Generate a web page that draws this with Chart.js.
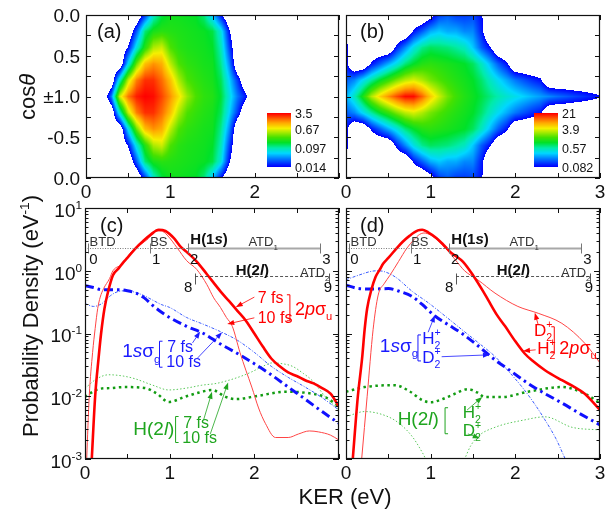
<!DOCTYPE html>
<html lang="en">
<head>
<meta charset="UTF-8" />
<title>KER and angular distributions</title>
<style>
    body { margin: 0; background: #fff; }
    .figBox { position: relative; width: 610px; height: 510px; }
    .figBox canvas { position: absolute; left: 0; top: 0; }
</style>
</head>
<body>
<div class="figBox">
    <canvas id="panelA" width="610" height="510"></canvas>
    <canvas id="panelB" width="610" height="510"></canvas>
    <canvas id="panelC" width="610" height="510"></canvas>
    <canvas id="panelD" width="610" height="510"></canvas>
</div>

<script src="https://cdn.jsdelivr.net/npm/chart.js"></script>

<script>
    // ---- data: heat maps (a), (b) ----
    // columns: KER (eV); rows: distance from cos=±1 (0) to cos=0 (1); 0 = no counts
    const heatKer = [0.0, 0.1, 0.2, 0.3, 0.4, 0.5, 0.6, 0.7, 0.8, 0.9, 1.0, 1.1, 1.2, 1.3, 1.4, 1.5,
        1.6, 1.7, 1.8, 1.9, 2.0, 2.1, 2.2, 2.3, 2.4, 2.5, 2.6, 2.7, 2.8, 2.9, 3.0];
    const heatRow = [0, 0.2, 0.4, 0.6, 0.8, 1.0];
    const heatA = [
        [0, 0, 0, 0.03, 0.6, 1.8, 3.0, 3.5, 3.3, 2.4, 1.5, 0.85, 0.45, 0.3, 0.24, 0.22, 0.16, 0.07, 0.03, 0.016, 0, 0, 0, 0, 0, 0, 0, 0, 0, 0, 0],
        [0, 0, 0, 0, 0.08, 0.55, 1.7, 2.7, 2.7, 1.9, 1.1, 0.5, 0.3, 0.25, 0.22, 0.2, 0.14, 0.055, 0.02, 0, 0, 0, 0, 0, 0, 0, 0, 0, 0, 0, 0],
        [0, 0, 0, 0, 0, 0.06, 0.35, 1.1, 1.5, 1.25, 0.55, 0.3, 0.24, 0.22, 0.2, 0.19, 0.11, 0.035, 0, 0, 0, 0, 0, 0, 0, 0, 0, 0, 0, 0, 0],
        [0, 0, 0, 0, 0, 0.015, 0.07, 0.22, 0.5, 0.6, 0.3, 0.23, 0.21, 0.2, 0.19, 0.17, 0.09, 0.022, 0, 0, 0, 0, 0, 0, 0, 0, 0, 0, 0, 0, 0],
        [0, 0, 0, 0, 0, 0, 0.025, 0.12, 0.2, 0.23, 0.22, 0.21, 0.2, 0.19, 0.18, 0.15, 0.07, 0.015, 0, 0, 0, 0, 0, 0, 0, 0, 0, 0, 0, 0, 0],
        [0, 0, 0, 0, 0, 0, 0, 0.02, 0.08, 0.15, 0.19, 0.19, 0.18, 0.17, 0.12, 0.05, 0.016, 0, 0, 0, 0, 0, 0, 0, 0, 0, 0, 0, 0, 0, 0]
    ];
    const heatB = [
        [0.25, 0.5, 1.2, 3, 5.5, 9, 14, 20, 20, 12, 6, 3.5, 2.2, 1.6, 1.3, 1.1, 0.9, 0.7, 0.55, 0.45, 0.38, 0.32, 0.27, 0.23, 0.2, 0.17, 0.15, 0.13, 0.115, 0.1, 0.088],
        [0.15, 0.2, 0.35, 0.6, 1.0, 1.5, 2.3, 3.2, 3.8, 3.0, 2.2, 1.8, 1.5, 1.3, 1.15, 1.0, 0.75, 0.5, 0.35, 0.25, 0.18, 0.14, 0.11, 0.09, 0, 0, 0, 0, 0, 0, 0],
        [0.1, 0, 0, 0.09, 0.15, 0.25, 0.4, 0.7, 1.0, 1.3, 1.4, 1.3, 1.2, 1.1, 1.0, 0.8, 0.5, 0.28, 0.15, 0.09, 0, 0, 0, 0, 0, 0, 0, 0, 0, 0, 0],
        [0.1, 0, 0, 0, 0, 0, 0.1, 0.2, 0.4, 0.65, 0.8, 0.75, 0.7, 0.6, 0.5, 0.3, 0.15, 0.088, 0, 0, 0, 0, 0, 0, 0, 0, 0, 0, 0, 0, 0],
        [0.09, 0, 0, 0, 0, 0, 0, 0, 0.09, 0.15, 0.25, 0.3, 0.25, 0.25, 0.2, 0.2, 0.1, 0, 0, 0, 0, 0, 0, 0, 0, 0, 0, 0, 0, 0, 0],
        [0.09, 0, 0, 0, 0, 0, 0, 0, 0, 0, 0.06, 0.12, 0.15, 0.12, 0.12, 0.13, 0.09, 0, 0, 0, 0, 0, 0, 0, 0, 0, 0, 0, 0, 0, 0]
    ];
    const barTicksA = [3.5, 0.67, 0.097, 0.014];
    const barTicksB = [21, 3.9, 0.57, 0.082];

    // ---- data: KER spectra (c) 7 fs / 10 fs ----
    const kerRed7C = [0.08, 0.12, 0.16, 0.19, 0.23, 0.27, 0.33, 0.4, 0.45, 0.5, 0.6, 0.69, 0.78, 0.87, 0.95, 1.05, 1.12, 1.2, 1.32, 1.44, 1.6, 1.7, 1.8, 1.9, 2.0, 2.1, 2.2, 2.3, 2.4, 2.5, 2.6, 2.7, 2.8, 2.9, 3.0];
    const red7C = [0.001, 0.01, 0.04, 0.1, 0.25, 0.45, 0.85, 1.1, 1.35, 1.6, 2.3, 3.0, 3.8, 4.5, 4.3, 3.3, 2.5, 2.0, 1.4, 0.88, 0.47, 0.33, 0.23, 0.16, 0.1, 0.062, 0.04, 0.03, 0.024, 0.021, 0.018, 0.016, 0.0135, 0.011, 0.0068];
    const kerRed10C = [0.02, 0.05, 0.09, 0.12, 0.15, 0.18, 0.22, 0.29, 0.33, 0.45, 0.53, 0.6, 0.73, 0.85, 0.9, 0.97, 1.09, 1.2, 1.32, 1.44, 1.52, 1.6, 1.67, 1.74, 1.83, 1.9, 1.97, 2.05, 2.13, 2.25, 2.4, 2.52, 2.65, 2.76, 2.9, 3.0];
    const red10C = [0.001, 0.01, 0.05, 0.12, 0.25, 0.38, 0.52, 0.75, 1.0, 1.3, 1.9, 2.3, 3.1, 4.3, 4.3, 3.7, 2.3, 1.45, 1.05, 0.6, 0.37, 0.26, 0.18, 0.13, 0.05, 0.026, 0.014, 0.0065, 0.0037, 0.0022, 0.0022, 0.0025, 0.0028, 0.0027, 0.0024, 0.002];
    const kerBlueC = [0, 0.1, 0.2, 0.3, 0.4, 0.5, 0.6, 0.7, 0.8, 0.9, 1.0, 1.2, 1.4, 1.6, 1.8, 2.0, 2.2, 2.4, 2.6, 2.8, 3.0];
    const blue7C = [0.58, 0.54, 0.5, 0.5, 0.5, 0.48, 0.44, 0.37, 0.28, 0.22, 0.18, 0.13, 0.1, 0.068, 0.048, 0.033, 0.022, 0.014, 0.009, 0.0057, 0.0037];
    const blue10C = [0.3, 0.27, 0.3, 0.4, 0.47, 0.48, 0.45, 0.4, 0.34, 0.29, 0.26, 0.18, 0.14, 0.107, 0.078, 0.05, 0.03, 0.02, 0.014, 0.0095, 0.006];
    const kerGreen7C = [0, 0.16, 0.3, 0.47, 0.71, 0.85, 0.99, 1.18, 1.35, 1.5, 1.66, 1.78, 2.05, 2.37, 2.68, 2.85, 3.0];
    const green7C = [0.0098, 0.013, 0.0135, 0.014, 0.0135, 0.011, 0.0081, 0.0098, 0.0115, 0.0126, 0.0098, 0.009, 0.0102, 0.0118, 0.011, 0.0095, 0.0068];
    const kerGreen10C = [0, 0.14, 0.28, 0.45, 0.59, 0.8, 0.99, 1.2, 1.38, 1.55, 1.7, 1.85, 1.97, 2.1, 2.21, 2.33, 2.45, 2.58, 2.68, 2.84, 3.0];
    const green10C = [0.0134, 0.019, 0.022, 0.021, 0.019, 0.015, 0.0126, 0.0135, 0.015, 0.016, 0.018, 0.021, 0.0245, 0.03, 0.034, 0.033, 0.03, 0.023, 0.018, 0.0098, 0.006];

    // ---- data: KER spectra (d) H2+ / D2+ ----
    const kerRedH = [0.08, 0.14, 0.19, 0.22, 0.25, 0.3, 0.35, 0.4, 0.44, 0.5, 0.6, 0.67, 0.75, 0.85, 0.9, 0.97, 1.07, 1.15, 1.23, 1.3, 1.38, 1.5, 1.62, 1.68, 1.78, 1.88, 2.0, 2.11, 2.2, 2.35, 2.55, 2.7, 2.82, 2.9, 3.0];
    const redH = [0.001, 0.01, 0.04, 0.115, 0.25, 0.5, 0.8, 1.05, 1.3, 1.6, 2.3, 2.9, 3.6, 4.4, 4.5, 4.1, 3.3, 2.6, 2.0, 1.7, 1.4, 0.85, 0.47, 0.34, 0.2, 0.13, 0.075, 0.048, 0.037, 0.026, 0.018, 0.014, 0.011, 0.0085, 0.006];
    const kerRedD = [0.185, 0.25, 0.32, 0.38, 0.45, 0.52, 0.62, 0.72, 0.8, 0.87, 0.92, 1.0, 1.1, 1.2, 1.29, 1.4, 1.47, 1.56, 1.76, 2.03, 2.27, 2.55, 2.82, 3.0];
    const redD = [0.001, 0.01, 0.115, 0.41, 0.62, 0.85, 1.4, 2.3, 3.1, 3.8, 4.0, 3.7, 2.9, 2.1, 1.5, 1.0, 0.85, 0.71, 0.44, 0.27, 0.21, 0.145, 0.07, 0.034];
    const kerBlueH = [0, 0.15, 0.3, 0.5, 0.65, 0.78, 0.9, 1.05, 1.2, 1.37, 1.55, 1.76, 1.95, 2.15, 2.35, 2.55, 2.75, 3.0];
    const blueH = [0.59, 0.52, 0.51, 0.52, 0.46, 0.39, 0.29, 0.19, 0.14, 0.1, 0.065, 0.038, 0.025, 0.016, 0.011, 0.0078, 0.0054, 0.0035];
    const kerBlueD = [0, 0.15, 0.3, 0.38, 0.45, 0.58, 0.79, 0.97, 1.17, 1.37, 1.57, 1.76, 1.92, 2.08, 2.22, 2.35, 2.48, 2.59, 2.7];
    const blueD = [0.72, 0.85, 0.98, 1.0, 0.97, 0.8, 0.46, 0.31, 0.19, 0.115, 0.07, 0.043, 0.025, 0.014, 0.0078, 0.0042, 0.0021, 0.001, 0.0005];
    const kerGreenH = [0, 0.22, 0.4, 0.58, 0.75, 0.9, 1.0, 1.12, 1.25, 1.44, 1.55, 1.64, 1.84, 2.15, 2.55, 2.82, 3.0];
    const greenH = [0.0118, 0.014, 0.0148, 0.015, 0.012, 0.0087, 0.008, 0.0088, 0.0104, 0.013, 0.0115, 0.0097, 0.0097, 0.0118, 0.014, 0.011, 0.0078];
    const kerGreenD = [0, 0.22, 0.5, 0.65, 0.78, 0.87, 0.94, 1.0, 1.3, 1.4, 1.47, 1.56, 1.76, 2.11, 2.35, 2.67, 3.0];
    const greenD = [0.0047, 0.0057, 0.0047, 0.0035, 0.0023, 0.0015, 0.001, 0.0006, 0.0006, 0.001, 0.0016, 0.0023, 0.0032, 0.0042, 0.0047, 0.0032, 0.0029];

    // photon ladders (KER positions) and their levels
    const ladderKer = [0.03, 0.77, 1.22, 2.78];
    const ladderPhotons = ['0', '1', '2', '3'];
    const ladderLevel = 2.33;
    const ladder2Ker = [1.3, 2.88];
    const ladder2Photons = ['8', '9'];
    const ladder2Level = 0.83;

    // tick values
    const kerTicks = [0, 0.5, 1, 1.5, 2, 2.5, 3];
    const cosTicks = [-1, -0.75, -0.5, -0.25, 0, 0.25, 0.5, 0.75, 1];

    // ---- drawing helpers ----
    const FAM = '"Liberation Sans", Arial, sans-serif';
    const RED = '#ff0000', BLUE = '#1a1aff', GREEN = '#1fa51f';

    const jet = [
        [0.00, 0, 0, 255], [0.12, 0, 100, 255], [0.25, 0, 215, 255], [0.35, 0, 235, 170],
        [0.45, 0, 225, 40], [0.55, 70, 225, 0], [0.65, 175, 235, 0], [0.72, 245, 240, 0],
        [0.82, 255, 170, 0], [0.91, 255, 90, 0], [1.00, 255, 0, 0]
    ];
    function cmap(t) {
        t = Math.max(0, Math.min(1, t));
        let i = 0;
        while (i < jet.length - 2 && t > jet[i + 1][0]) i++;
        const a = jet[i], b = jet[i + 1];
        const f = (t - a[0]) / (b[0] - a[0]);
        return [0, 1, 2].map(k => Math.round(a[k + 1] + (b[k + 1] - a[k + 1]) * f));
    }

    function norm(p) { return typeof p === 'string' ? { t: p } : p; }
    function partWidth(ctx, p, size, bold) {
        const b = bold ? 'bold ' : '';
        if (p.ss) {
            ctx.font = b + (size * 0.62) + 'px ' + FAM;
            return Math.max(ctx.measureText(p.ss[0]).width, ctx.measureText(p.ss[1]).width);
        }
        const s = (p.sub || p.sup) ? size * 0.62 : size;
        ctx.font = (p.i ? 'italic ' : '') + b + s + 'px ' + FAM;
        return ctx.measureText(p.t).width;
    }
    function drawRich(ctx, x, y, parts, size, color, align, bold) {
        ctx.save();
        ctx.fillStyle = color;
        ctx.textAlign = 'left';
        ctx.textBaseline = 'alphabetic';
        parts = parts.map(norm);
        let w = 0;
        parts.forEach(p => { w += partWidth(ctx, p, size, bold); });
        let cx = align === 'center' ? x - w / 2 : align === 'right' ? x - w : x;
        const base = y + size * 0.36;
        parts.forEach(p => {
            const pw = partWidth(ctx, p, size, bold);
            if (p.ss) {
                ctx.fillText(p.ss[0], cx, base + size * 0.3);
                ctx.fillText(p.ss[1], cx, base - size * 0.45);
            } else {
                const dy = p.sub ? size * 0.3 : p.sup ? -size * 0.42 : 0;
                ctx.fillText(p.t, cx, base + dy);
            }
            cx += pw;
        });
        ctx.restore();
    }
    function arrow(ctx, x1, y1, x2, y2, color) {
        const ang = Math.atan2(y2 - y1, x2 - x1);
        ctx.save();
        ctx.strokeStyle = color; ctx.fillStyle = color; ctx.lineWidth = 0.8;
        ctx.beginPath(); ctx.moveTo(x1, y1); ctx.lineTo(x2 - 5 * Math.cos(ang), y2 - 5 * Math.sin(ang)); ctx.stroke();
        ctx.beginPath();
        ctx.moveTo(x2, y2);
        ctx.lineTo(x2 - 7 * Math.cos(ang) + 2.6 * Math.sin(ang), y2 - 7 * Math.sin(ang) - 2.6 * Math.cos(ang));
        ctx.lineTo(x2 - 7 * Math.cos(ang) - 2.6 * Math.sin(ang), y2 - 7 * Math.sin(ang) + 2.6 * Math.cos(ang));
        ctx.closePath(); ctx.fill();
        ctx.restore();
    }
    function bracket(ctx, x, yc, h, dir, color) {
        ctx.save();
        ctx.strokeStyle = color; ctx.lineWidth = 1;
        ctx.beginPath();
        ctx.moveTo(x + 3 * dir, yc - h / 2); ctx.lineTo(x, yc - h / 2);
        ctx.lineTo(x, yc + h / 2); ctx.lineTo(x + 3 * dir, yc + h / 2);
        ctx.stroke();
        ctx.restore();
    }

    function drawHeat(chart, h) {
        const { ctx, chartArea: a, scales: { x, y } } = chart;
        const W = Math.round(a.right - a.left), H = Math.round(a.bottom - a.top);
        const hi = Math.log10(h.range[0]), lo = Math.log10(h.range[h.range.length - 1]);
        const floor = lo - 0.35;
        const L = h.grid.map(r => r.map(v => v > 0 ? Math.log10(v) : floor));
        const off = document.createElement('canvas');
        off.width = W; off.height = H;
        const octx = off.getContext('2d');
        const img = octx.createImageData(W, H);
        for (let j = 0; j < H; j++) {
            const d = Math.abs(y.getValueForPixel(a.top + j + 0.5));
            let r = 0;
            while (r < heatRow.length - 2 && d > heatRow[r + 1]) r++;
            const fr = Math.max(0, Math.min(1, (d - heatRow[r]) / (heatRow[r + 1] - heatRow[r])));
            for (let i = 0; i < W; i++) {
                const k = x.getValueForPixel(a.left + i + 0.5);
                let c = 0;
                while (c < heatKer.length - 2 && k > heatKer[c + 1]) c++;
                const fc = Math.max(0, Math.min(1, (k - heatKer[c]) / (heatKer[c + 1] - heatKer[c])));
                const v = (L[r][c] * (1 - fc) + L[r][c + 1] * fc) * (1 - fr) +
                    (L[r + 1][c] * (1 - fc) + L[r + 1][c + 1] * fc) * fr;
                if (v < lo) continue;
                const col = cmap((v - lo) / (hi - lo));
                const p = (j * W + i) * 4;
                img.data[p] = col[0]; img.data[p + 1] = col[1]; img.data[p + 2] = col[2]; img.data[p + 3] = 255;
            }
        }
        octx.putImageData(img, 0, 0);
        ctx.drawImage(off, a.left, a.top);

        // colour bar
        const cb = h.bar;
        for (let j = 0; j < cb.h; j++) {
            const col = cmap(1 - j / (cb.h - 1));
            ctx.fillStyle = 'rgb(' + col.join(',') + ')';
            ctx.fillRect(cb.x, cb.y + j, cb.w, 1);
        }
        h.range.forEach(v => {
            const yy = cb.y + (hi - Math.log10(v)) / (hi - lo) * cb.h;
            drawRich(ctx, cb.x + cb.w + 4, yy, [String(v)], 12.5, '#111', 'left');
        });
    }

    function drawFrame(chart, s) {
        const { ctx, chartArea: a, scales: { x, y } } = chart;
        ctx.save();
        ctx.strokeStyle = '#111';
        ctx.lineWidth = 1;
        ctx.beginPath();
        kerTicks.forEach(v => {
            const px = Math.round(x.getPixelForValue(v)) + 0.5;
            ctx.moveTo(px, a.bottom); ctx.lineTo(px, a.bottom - 5);
            ctx.moveTo(px, a.top); ctx.lineTo(px, a.top + 5);
        });
        const yt = [];
        if (s.log) {
            for (let e = -3; e <= 0; e++) for (let m = 1; m <= 9; m++) yt.push([m * Math.pow(10, e), m === 1 ? 6 : 3.5]);
            yt.push([10, 6]);
        } else {
            cosTicks.forEach(v => yt.push([v, 5]));
        }
        yt.forEach(([v, len]) => {
            const py = Math.round(y.getPixelForValue(v)) + 0.5;
            ctx.moveTo(a.left, py); ctx.lineTo(a.left + len, py);
            ctx.moveTo(a.right, py); ctx.lineTo(a.right - len, py);
        });
        ctx.stroke();
        ctx.lineWidth = 1.2;
        ctx.strokeRect(Math.round(a.left) + 0.5, Math.round(a.top) + 0.5,
            Math.round(a.right - a.left) - 1, Math.round(a.bottom - a.top) - 1);
        ctx.restore();

        // tick labels
        s.xLabels.forEach(v => {
            drawRich(ctx, x.getPixelForValue(v), a.bottom + 13, [String(v)], 19, '#111', 'center');
        });
        if (s.yLabels && !s.log) {
            [1, 0.5, 0, -0.5, -1].forEach(v => {
                const c = 1 - Math.abs(v);
                const txt = v === 0 ? '\u00b11.0' : (v < 0 && c > 0 ? '-' : '') + c.toFixed(1);
                drawRich(ctx, a.left - 6, y.getPixelForValue(v), [txt], 19, '#111', 'right');
            });
        }
        if (s.yLabels && s.log) {
            [1, 0, -1, -2, -3].forEach(e => {
                const py = y.getPixelForValue(Math.pow(10, e));
                drawRich(ctx, a.left - 3, py + 2, ['10', { t: String(e), sup: true }], 19, '#111', 'right');
            });
        }
        drawRich(ctx, a.left + s.tag[1], a.top + s.tag[2], [s.tag[0]], 20, '#111', 'left');
    }

    function drawLadder(chart) {
        const { ctx, scales: { x, y } } = chart;
        const yl = Math.round(y.getPixelForValue(ladderLevel)) + 0.5;
        const px = ladderKer.map(k => x.getPixelForValue(k));
        const segs = [[0, 1, [1, 1.5], '#7a7a7a', 1], [1, 2, [2.5, 1.5], '#7a7a7a', 1], [2, 3, [], '#a8a8a8', 2]];
        ctx.save();
        segs.forEach(([i, j, dash, col, w]) => {
            ctx.setLineDash(dash); ctx.strokeStyle = col; ctx.lineWidth = w;
            ctx.beginPath(); ctx.moveTo(px[i], yl); ctx.lineTo(px[j], yl); ctx.stroke();
        });
        ctx.setLineDash([]);
        ctx.strokeStyle = '#777'; ctx.lineWidth = 1;
        ctx.beginPath();
        px.forEach(p => { ctx.moveTo(Math.round(p) + 0.5, yl - 5); ctx.lineTo(Math.round(p) + 0.5, yl + 5); });
        ctx.stroke();

        const y2 = Math.round(y.getPixelForValue(ladder2Level)) + 0.5;
        const q = ladder2Ker.map(k => x.getPixelForValue(k));
        ctx.setLineDash([3, 2]); ctx.strokeStyle = '#444'; ctx.lineWidth = 0.9;
        ctx.beginPath(); ctx.moveTo(q[0], y2); ctx.lineTo(q[1], y2); ctx.stroke();
        ctx.setLineDash([]);
        ctx.beginPath();
        q.forEach(p => { ctx.moveTo(Math.round(p) + 0.5, y2 - 3); ctx.lineTo(Math.round(p) + 0.5, y2 + 8); });
        ctx.stroke();
        ctx.restore();

        ladderPhotons.forEach((t, i) => drawRich(ctx, px[i] + 6, yl + 10, [t], 15, '#111', 'center'));
        drawRich(ctx, px[0] + 2, yl - 7, ['BTD'], 13, '#333', 'left');
        drawRich(ctx, px[1], yl - 7, ['BS'], 13, '#333', 'left');
        drawRich(ctx, px[2] + 2, yl - 10, ['H(1', { t: 's', i: true }, ')'], 15, '#111', 'left', true);
        drawRich(ctx, x.getPixelForValue(1.93), yl - 7, ['ATD', { t: '1', sub: true }], 13, '#333', 'left');
        drawRich(ctx, q[0] - 7, y2 + 10, [ladder2Photons[0]], 15, '#111', 'center');
        drawRich(ctx, q[1] - 1, y2 + 10, [ladder2Photons[1]], 15, '#111', 'center');
        drawRich(ctx, x.getPixelForValue(1.78), y2 - 7, ['H(2', { t: 'l', i: true }, ')'], 15, '#111', 'left', true);
        drawRich(ctx, x.getPixelForValue(2.54), y2 - 4, ['ATD', { t: '2', sub: true }], 13, '#333', 'left');
    }

    function drawNotes(chart, s) {
        const { ctx, scales: { x, y } } = chart;
        const P = a => [x.getPixelForValue(a[0]), y.getPixelForValue(Math.pow(10, a[1]))];
        (s.brackets || []).forEach(b => { const p = P(b.at); bracket(ctx, p[0], p[1], b.h, b.dir, b.color); });
        (s.arrows || []).forEach(r => { const p = P(r.from), q = P(r.to); arrow(ctx, p[0], p[1], q[0], q[1], r.color); });
        (s.notes || []).forEach(n => { const p = P(n.at); drawRich(ctx, p[0], p[1], n.parts, n.size, n.color, 'left'); });
    }

    function drawTitles(chart) {
        const ctx = chart.ctx;
        ctx.save();
        ctx.translate(27, 97); ctx.rotate(-Math.PI / 2);
        drawRich(ctx, 0, 0, ['cos', { t: '\u03b8', i: true }], 22, '#111', 'center');
        ctx.restore();
        ctx.save();
        ctx.translate(30, 316); ctx.rotate(-Math.PI / 2);
        drawRich(ctx, 0, 0, ['Probability Density (eV', { t: '-1', sup: true }, ')'], 22, '#111', 'center');
        ctx.restore();
        drawRich(ctx, 345, 496, ['KER (eV)'], 22, '#111', 'center');
    }

    // ---- panel specs (styles and positions) ----
    const sym2p = ['2', { t: 'p', i: true }, '\u03c3', { t: 'u', sub: true }];
    const sym1s = ['1', { t: 's', i: true }, '\u03c3', { t: 'g', sub: true }];
    const symH2l = ['H(2', { t: 'l', i: true }, ')'];
    const symH2 = ['H', { ss: ['2', '+'] }];
    const symD2 = ['D', { ss: ['2', '+'] }];

    const specs = {
        panelA: {
            area: [86, 15, 339, 178], log: false, yLabels: true, xLabels: [0, 1, 2], tag: ['(a)', 11, 16], titles: true,
            heat: { grid: heatA, range: barTicksA, bar: { x: 267, y: 113, w: 24, h: 54 } }
        },
        panelB: {
            area: [346, 15, 600, 178], log: false, yLabels: false, xLabels: [0, 1, 2, 3], tag: ['(b)', 14, 16],
            heat: { grid: heatB, range: barTicksB, bar: { x: 534, y: 113, w: 24, h: 54 } }
        },
        panelC: {
            area: [85, 208, 339, 459], log: true, yLabels: true, xLabels: [0, 1, 2], tag: ['(c)', 15, 17], ladder: true,
            notes: [
                { at: [2.04, -0.43], parts: ['7 fs'], size: 16, color: RED },
                { at: [2.04, -0.74], parts: ['10 fs'], size: 16, color: RED },
                { at: [2.48, -0.6], parts: sym2p, size: 18, color: RED },
                { at: [0.44, -1.27], parts: sym1s, size: 19, color: BLUE },
                { at: [0.97, -1.2], parts: ['7 fs'], size: 16, color: BLUE },
                { at: [0.96, -1.45], parts: ['10 fs'], size: 16, color: BLUE },
                { at: [0.57, -2.51], parts: symH2l, size: 19, color: GREEN },
                { at: [1.16, -2.41], parts: ['7 fs'], size: 16, color: GREEN },
                { at: [1.15, -2.65], parts: ['10 fs'], size: 16, color: GREEN }
            ],
            brackets: [
                { at: [2.42, -0.59], h: 26, dir: -1, color: RED },
                { at: [0.88, -1.33], h: 26, dir: 1, color: BLUE },
                { at: [1.07, -2.53], h: 26, dir: 1, color: GREEN }
            ],
            arrows: [
                { from: [2.0, -0.42], to: [1.78, -0.58], color: RED },
                { from: [2.0, -0.75], to: [1.68, -0.85], color: RED },
                { from: [1.27, -1.15], to: [1.36, -0.97], color: BLUE },
                { from: [1.33, -1.39], to: [1.62, -0.98], color: BLUE },
                { from: [1.4, -2.38], to: [1.5, -1.93], color: GREEN },
                { from: [1.48, -2.6], to: [1.69, -1.78], color: GREEN }
            ]
        },
        panelD: {
            area: [346, 208, 600, 459], log: true, yLabels: false, xLabels: [0, 1, 2, 3], tag: ['(d)', 14, 17], ladder: true,
            notes: [
                { at: [2.22, -0.94], parts: symD2, size: 17, color: RED },
                { at: [2.26, -1.23], parts: symH2, size: 17, color: RED },
                { at: [2.52, -1.22], parts: sym2p, size: 18, color: RED },
                { at: [0.4, -1.18], parts: sym1s, size: 19, color: BLUE },
                { at: [0.9, -1.07], parts: symH2, size: 17, color: BLUE },
                { at: [0.9, -1.37], parts: symD2, size: 17, color: BLUE },
                { at: [0.61, -2.35], parts: symH2l, size: 19, color: GREEN },
                { at: [1.38, -2.25], parts: symH2, size: 17, color: GREEN },
                { at: [1.38, -2.54], parts: symD2, size: 17, color: GREEN }
            ],
            brackets: [
                { at: [2.46, -1.1], h: 26, dir: -1, color: RED },
                { at: [0.85, -1.23], h: 26, dir: 1, color: BLUE },
                { at: [1.17, -2.39], h: 26, dir: 1, color: GREEN }
            ],
            arrows: [
                { from: [2.27, -0.86], to: [2.23, -0.67], color: RED },
                { from: [2.24, -1.26], to: [2.09, -1.28], color: RED },
                { from: [0.97, -0.98], to: [1.05, -0.71], color: BLUE },
                { from: [1.13, -1.37], to: [1.7, -1.34], color: BLUE },
                { from: [1.43, -2.22], to: [1.61, -2.01], color: GREEN },
                { from: [1.44, -2.6], to: [1.58, -2.67], color: GREEN }
            ]
        }
    };

    const panelPlugin = {
        id: 'panelDeco',
        beforeDatasetsDraw(chart) {
            const s = specs[chart.canvas.id];
            if (s.heat) drawHeat(chart, s.heat);
        },
        afterDatasetsDraw(chart) {
            const s = specs[chart.canvas.id];
            if (s.ladder) drawLadder(chart);
            drawNotes(chart, s);
            drawFrame(chart, s);
            if (s.titles) drawTitles(chart);
        }
    };

    function curve(kers, vals, style) {
        return Object.assign({
            data: kers.map((k, i) => ({ x: k, y: vals[i] })),
            pointRadius: 0, fill: false, cubicInterpolationMode: 'monotone'
        }, style);
    }

    function makePanel(id, datasets) {
        const s = specs[id];
        const [l, t, r, b] = s.area;
        return new Chart(document.getElementById(id), {
            type: 'line',
            data: { datasets },
            options: {
                responsive: false,
                animation: false,
                events: [],
                layout: { padding: { left: l, top: t, right: 610 - r, bottom: 510 - b } },
                plugins: { legend: { display: false }, tooltip: { enabled: false } },
                scales: {
                    x: { type: 'linear', min: 0, max: 3, display: false },
                    y: s.log ? { type: 'logarithmic', min: 0.001, max: 10, display: false }
                        : { type: 'linear', min: -1, max: 1, display: false }
                }
            },
            plugins: [panelPlugin]
        });
    }

    makePanel('panelA', []);
    makePanel('panelB', []);

    makePanel('panelC', [
        curve(kerRed7C, red7C, { borderColor: RED, borderWidth: 2.6 }),
        curve(kerRed10C, red10C, { borderColor: '#ff4545', borderWidth: 1 }),
        curve(kerBlueC, blue7C, { borderColor: '#1010ff', borderWidth: 3, borderDash: [9, 4, 2.5, 4] }),
        curve(kerBlueC, blue10C, { borderColor: '#3a5cff', borderWidth: 1, borderDash: [3, 1.5, 1, 1.5] }),
        curve(kerGreen7C, green7C, { borderColor: '#129c12', borderWidth: 2.5, borderDash: [2.5, 3.5] }),
        curve(kerGreen10C, green10C, { borderColor: '#5cc85c', borderWidth: 1, borderDash: [1.5, 2] })
    ]);

    makePanel('panelD', [
        curve(kerRedH, redH, { borderColor: RED, borderWidth: 2.6 }),
        curve(kerRedD, redD, { borderColor: '#ff4545', borderWidth: 1 }),
        curve(kerBlueH, blueH, { borderColor: '#1010ff', borderWidth: 3, borderDash: [9, 4, 2.5, 4] }),
        curve(kerBlueD, blueD, { borderColor: '#3a5cff', borderWidth: 1, borderDash: [3, 1.5, 1, 1.5] }),
        curve(kerGreenH, greenH, { borderColor: '#129c12', borderWidth: 2.5, borderDash: [2.5, 3.5] }),
        curve(kerGreenD, greenD, { borderColor: '#5cc85c', borderWidth: 1, borderDash: [1.5, 2] })
    ]);
</script>
</body>
</html>
